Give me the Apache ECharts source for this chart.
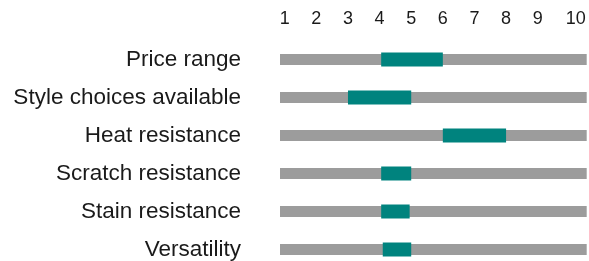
<!DOCTYPE html>
<html>
<head>
<meta charset="utf-8">
<script src="https://cdn.jsdelivr.net/npm/echarts@6/dist/echarts.min.js"></script>
<style>
  html, body { margin: 0; padding: 0; background: #fff; }
  #chart { width: 589px; height: 261px; }
</style>
</head>
<body>
<div id="chart"></div>
<script>
    // rows, top to bottom
    var categories = ['Price range', 'Style choices available', 'Heat resistance',
                      'Scratch resistance', 'Stain resistance', 'Versatility'];
    var rangeStart = [4.05, 3, 6, 4.05, 4.05, 4.1];
    var rangeEnd   = [6, 5, 8, 5, 4.95, 5];
    var tickValues = [1, 2, 3, 4, 5, 6, 7, 8, 9, 10];
    var scaleMin = 0.85, scaleMax = 10.55;

    var myChart = echarts.init(document.getElementById('chart'));

    var lengths = rangeEnd.map(function (e, i) { return e - rangeStart[i]; });
    var trackBase = categories.map(function () { return scaleMin; });
    var track = categories.map(function () { return scaleMax - scaleMin; });

    var hidden = { color: 'rgba(0,0,0,0)' };

    var option = {
        animation: false,
        textStyle: { fontFamily: 'Liberation Sans' },
        // first and last row sit on the grid edges
        grid: { left: 280, top: 59.5, width: 306.7, height: 190 },
        xAxis: {
            type: 'value',
            position: 'top',
            min: scaleMin,
            max: scaleMax,
            axisLine: { show: false },
            axisTick: { show: false },
            splitLine: { show: false },
            axisLabel: {
                customValues: tickValues,
                color: '#1a1a1a',
                fontSize: 18,
                margin: 31,
                formatter: function (v) { return v === 10 ? '{ten|10}' : String(v); },
                rich: { ten: { fontSize: 18, color: '#1a1a1a', padding: [0, 0, 0, 13] } }
            }
        },
        yAxis: [
            {
                type: 'category',
                inverse: true,
                boundaryGap: false,
                data: categories,
                axisLine: { show: false },
                axisTick: { show: false },
                splitLine: { show: false },
                axisLabel: { color: '#1a1a1a', fontSize: 22.5, margin: 39 }
            },
            {
                type: 'category',
                inverse: true,
                boundaryGap: false,
                data: categories,
                show: false
            }
        ],
        series: [
            {
                type: 'bar', yAxisIndex: 1, stack: 'g',
                data: trackBase, barWidth: 11, clip: false,
                itemStyle: hidden, silent: true, z: 1
            },
            {
                type: 'bar', yAxisIndex: 1, stack: 'g',
                data: track, barWidth: 11, clip: false,
                itemStyle: { color: '#9c9c9c' }, silent: true, z: 1
            },
            {
                type: 'bar', stack: 'r',
                data: rangeStart, barWidth: 14, clip: false,
                itemStyle: hidden, silent: true, z: 2
            },
            {
                type: 'bar', stack: 'r',
                data: lengths, barWidth: 14, clip: false,
                itemStyle: { color: '#00837e' }, z: 3
            }
        ]
    };

    myChart.setOption(option);
</script>
</body>
</html>
